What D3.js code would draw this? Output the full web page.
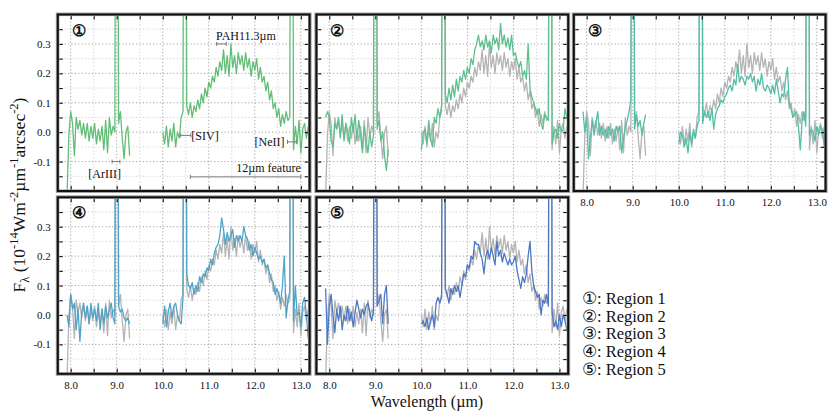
<!DOCTYPE html>
<html><head><meta charset="utf-8">
<script src="https://cdn.jsdelivr.net/npm/d3@7/dist/d3.min.js"></script>
<style>
body{margin:0;background:#fff}
svg text{font-family:"Liberation Serif","Times New Roman",serif;fill:#111}
</style>
</head><body>
<svg id="c" width="830" height="414"></svg>
<script>
// ---------- data (F_lambda, 1e-14 W m^-2 um^-1 arcsec^-2) ----------
const wavelength = [
 7.92,7.96,8.00,8.04,8.08,8.12,8.16,8.20,8.24,8.28,8.32,8.36,8.40,8.44,8.48,8.52,8.56,8.60,8.64,8.68,
 8.72,8.76,8.80,8.84,8.88,8.92,8.96,9.00,9.04,9.08,9.12,9.16,9.20,9.24,9.28,
 9.64,
 10.00,10.04,10.08,10.12,10.16,10.20,10.24,10.28,10.32,10.36,10.40,10.44,10.48,10.52,10.56,10.60,10.64,10.68,10.72,10.76,
 10.80,10.84,10.88,10.92,10.96,11.00,11.04,11.08,11.12,11.16,11.20,11.24,11.28,11.32,11.36,11.40,11.44,11.48,11.52,11.56,
 11.60,11.64,11.68,11.72,11.76,11.80,11.84,11.88,11.92,11.96,12.00,12.04,12.08,12.12,12.16,12.20,12.24,12.28,12.32,12.36,
 12.40,12.44,12.48,12.52,12.56,12.60,12.64,12.68,12.72,12.76,12.80,12.84,12.88,12.92,12.96,13.00,13.04,13.08,13.12,13.16
];
const region1 = [
 -0.22,-0.01,0.07,0.03,-0.08,0.05,0.01,0.04,-0.01,0.03,-0.02,0.03,-0.03,0.02,-0.02,0.03,-0.04,0.01,-0.03,0.02,
 -0.06,0.04,-0.07,0.05,-0.01,0.02,0.00,3,0.03,0.07,-0.02,-0.09,0.00,0.02,-0.08,
 null,
 0.00,-0.04,0.02,-0.05,0.01,-0.03,0.03,-0.05,0.00,-0.02,0.05,0.07,3,0.09,0.06,0.10,0.05,0.09,0.07,0.11,
 0.08,0.13,0.10,0.15,0.12,0.17,0.15,0.19,0.17,0.22,0.19,0.24,0.21,0.28,0.20,0.26,0.19,0.30,0.22,0.26,
 0.20,0.27,0.23,0.26,0.21,0.27,0.22,0.25,0.19,0.24,0.21,0.25,0.18,0.22,0.17,0.19,0.14,0.17,0.11,0.14,
 0.08,0.10,0.05,0.08,0.02,0.06,0.03,0.07,0.04,0.05,3,-0.06,0.02,-0.04,0.04,-0.07,0.01,0.03,-0.02,0.02
];
const region2 = [
 0.05,0.07,0.05,-0.03,-0.05,0.03,0.01,0.05,-0.02,0.06,-0.03,0.03,0.00,-0.04,0.05,0.00,0.06,-0.03,0.04,-0.01,
 -0.07,0.02,-0.03,-0.07,0.00,-0.05,-0.01,3,0.01,0.04,-0.03,0.00,-0.08,-0.13,-0.06,
 null,
 -0.06,0.00,0.01,-0.04,0.04,-0.02,-0.05,0.05,0.03,0.08,0.05,0.09,3,0.13,0.10,0.15,0.11,0.16,0.12,0.18,
 0.14,0.19,0.17,0.21,0.18,0.22,0.20,0.25,0.23,0.28,0.30,0.33,0.29,0.31,0.28,0.33,0.29,0.31,0.27,0.33,
 0.30,0.32,0.28,0.37,0.30,0.33,0.29,0.32,0.28,0.33,0.26,0.27,0.24,0.22,0.24,0.19,0.21,0.18,0.30,0.15,
 0.12,0.10,0.08,0.06,0.08,0.03,0.01,0.06,0.05,0.04,3,-0.04,0.00,0.01,-0.02,0.03,0.00,0.01,0.08,0.05
];
const region3 = [
 0.07,0.00,0.05,-0.09,-0.02,0.04,-0.01,0.03,0.07,-0.01,0.02,-0.01,0.01,-0.02,0.02,-0.01,0.01,-0.03,0.02,0.00,
 0.02,-0.07,-0.02,0.02,0.04,0.07,0.11,3,0.01,0.06,0.02,0.04,-0.01,0.03,0.06,
 null,
 -0.04,0.00,-0.01,-0.05,-0.02,-0.07,0.00,-0.04,0.01,-0.02,0.02,0.04,3,0.03,0.07,0.05,0.07,0.04,0.08,0.01,
 0.06,0.08,0.09,0.11,0.10,0.12,0.13,0.15,0.16,0.14,0.18,0.16,0.23,0.17,0.19,0.18,0.16,0.19,0.18,0.20,
 0.17,0.19,0.14,0.18,0.16,0.20,0.15,0.14,0.16,0.15,0.13,0.16,0.13,0.18,0.14,0.10,0.13,0.12,0.18,0.22,
 0.10,0.08,0.05,0.06,0.07,0.02,-0.06,0.04,0.07,0.02,3,-0.01,0.01,0.00,-0.03,0.02,-0.01,0.02,0.01,-0.05
];
const region4 = [
 0.00,-0.04,0.07,0.02,0.04,-0.05,0.02,-0.09,0.01,0.04,-0.01,0.03,-0.03,0.04,-0.01,0.02,-0.02,0.04,-0.05,0.02,
 -0.03,0.03,-0.01,0.02,0.04,-0.01,-0.03,3,0.03,0.01,0.02,-0.01,-0.02,-0.01,-0.03,
 null,
 -0.03,0.03,-0.04,0.01,0.04,-0.01,0.03,0.04,0.00,-0.02,-0.03,0.06,3,0.14,0.10,0.09,0.11,0.07,0.10,0.08,
 0.13,0.11,0.14,0.13,0.16,0.15,0.19,0.17,0.21,0.23,0.24,0.27,0.33,0.29,0.24,0.28,0.25,0.27,0.29,0.23,
 0.27,0.25,0.27,0.25,0.30,0.27,0.26,0.22,0.24,0.20,0.23,0.21,0.19,0.20,0.18,0.19,0.16,0.17,0.14,0.12,
 0.11,0.07,0.09,0.07,0.04,0.10,0.20,-0.01,0.05,0.08,3,-0.02,0.10,0.00,0.01,-0.04,0.04,0.06,0.00,-0.08
];
const region5 = [
 0.09,-0.10,0.03,0.07,0.00,-0.06,0.02,-0.02,0.03,-0.05,0.00,-0.02,0.03,-0.02,0.01,-0.04,0.01,0.05,0.02,-0.01,
 0.02,0.00,0.03,0.04,0.01,-0.02,0.01,3,0.03,0.05,0.07,-0.03,0.07,0.10,-0.03,
 null,
 -0.03,-0.02,-0.04,-0.01,-0.05,-0.02,0.00,-0.04,0.04,0.06,0.04,0.06,3,0.09,0.07,0.04,0.09,0.07,0.10,0.08,
 0.10,0.06,0.10,0.14,0.13,0.17,0.16,0.20,0.19,0.25,0.24,0.24,0.21,0.19,0.14,0.20,0.22,0.19,0.23,0.20,
 0.17,0.25,0.20,0.22,0.18,0.21,0.19,0.17,0.19,0.17,0.18,0.20,0.15,0.12,0.09,0.13,0.11,0.14,0.20,0.25,
 0.15,0.10,0.08,0.06,0.07,0.00,0.05,0.04,0.07,0.03,3,0.01,-0.04,-0.02,-0.05,0.00,-0.04,0.00,-0.02,-0.05
];
const regionNames = ["Region 1","Region 2","Region 3","Region 4","Region 5"];
const regionMarks = ["\u2460","\u2461","\u2462","\u2463","\u2464"];
const regionColors = ["#62be76","#5ec08c","#52bfa6","#4ea4c8","#4d78c6"];
const referenceColor = "#b4b4b4";
const xTickValues = [8.0,8.5,9.0,9.5,10.0,10.5,11.0,11.5,12.0,12.5,13.0];
const xTickLabels = {8:"8.0",9:"9.0",10:"10.0",11:"11.0",12:"12.0",13:"13.0"};
const yTickValues = [-0.15,-0.1,-0.05,0.0,0.05,0.1,0.15,0.2,0.25,0.3,0.35];
const yTickLabels = {"-0.1":"-0.1","0":"0.0","0.1":"0.1","0.2":"0.2","0.3":"0.3"};
// annotations of panel 1
const lineMarks = [
 {label:"[ArIII]", x1:8.90, x2:9.07, y:-0.10},
 {label:"[SIV]",   x1:10.39, x2:10.61, y:-0.011},
 {label:"[NeII]",  x1:12.71, x2:12.90, y:-0.033},
 {label:"PAH11.3\u00b5m", x1:11.17, x2:11.38, y:0.30},
 {label:"12\u00b5m feature", x1:10.60, x2:13.00, y:-0.152}
];

const regions = [region1,region2,region3,region4,region5];
// ---------- layout ----------
const svg = d3.select("#c");
const colLeft = [57.8,316.4,573.8], rowTop = [14.5,197.3];
const pw = 251.8, ph = 176.5;
const panels = [
 {c:0,r:0,xl:false,yl:true},{c:1,r:0,xl:false,yl:false},{c:2,r:0,xl:true,yl:false},
 {c:0,r:1,xl:true,yl:true},{c:1,r:1,xl:true,yl:false}
];
const x = d3.scaleLinear().domain([7.72,13.19]).range([0,pw]);
const y = d3.scaleLinear().domain([-0.2,0.4]).range([ph,0]);
const line = d3.line().defined(d=>d.v!==null).x(d=>x(d.w)).y(d=>y(d.v));
const toPts = arr => wavelength.map((w,i)=>({w:w,v:arr[i]}));

panels.forEach((p,i)=>{
  const g = svg.append("g").attr("transform",`translate(${colLeft[p.c]},${rowTop[p.r]})`);
  const cid = "clip"+i;
  g.append("clipPath").attr("id",cid).append("rect").attr("width",pw).attr("height",ph);
  const grid = g.append("g");
  xTickValues.forEach(v=>{
    const major = Math.abs(v-Math.round(v))<1e-6;
    grid.append("line").attr("x1",x(v)).attr("x2",x(v)).attr("y1",0).attr("y2",ph)
      .attr("stroke",major?"#8a8a8a":"#c4c4c4").attr("stroke-width",0.8).attr("stroke-dasharray","1.2,2.2");
  });
  yTickValues.forEach(v=>{
    const major = Math.abs(v*10-Math.round(v*10))<1e-6;
    grid.append("line").attr("x1",0).attr("x2",pw).attr("y1",y(v)).attr("y2",y(v))
      .attr("stroke",major?"#8a8a8a":"#c4c4c4").attr("stroke-width",0.8).attr("stroke-dasharray","1.2,2.2");
  });
  const dg = g.append("g").attr("clip-path",`url(#${cid})`);
  if(i>0){
    dg.append("path").attr("d",line(toPts(region1))).attr("fill","none")
      .attr("stroke",referenceColor).attr("stroke-width",1.3).attr("stroke-linejoin","round");
  }
  dg.append("path").attr("d",line(toPts(regions[i]))).attr("fill","none")
    .attr("stroke",regionColors[i]).attr("stroke-width",1.3).attr("stroke-linejoin","round");

  const ax = g.append("g");
  ax.append("g").attr("transform",`translate(0,${ph})`)
    .call(d3.axisBottom(x).tickValues(xTickValues).tickSize(-5).tickPadding(7)
      .tickFormat(d=> p.xl ? (xTickLabels[Math.round(d*10)/10]||"") : ""));
  ax.append("g").call(d3.axisTop(x).tickValues(xTickValues).tickSize(-5).tickFormat(""));
  ax.append("g").call(d3.axisLeft(y).tickValues(yTickValues).tickSize(-5).tickPadding(7)
      .tickFormat(d=> p.yl ? (yTickLabels[String(Math.round(d*100)/100)]||"") : ""));
  ax.append("g").attr("transform",`translate(${pw},0)`)
    .call(d3.axisRight(y).tickValues(yTickValues).tickSize(-5).tickFormat(""));
  ax.selectAll(".domain").remove();
  ax.selectAll(".tick line").attr("stroke","#111").attr("stroke-width",1.1);
  ax.selectAll(".tick text").attr("font-size",11).attr("fill","#222")
    .attr("font-family","'Liberation Serif',serif");

  g.append("rect").attr("x",-0.2).attr("y",-0.2).attr("width",pw+0.4).attr("height",ph+0.4)
    .attr("fill","none").attr("stroke","#a0a0a0").attr("stroke-width",3.6);
  g.append("rect").attr("width",pw).attr("height",ph)
    .attr("fill","none").attr("stroke","#111").attr("stroke-width",2);

  g.append("text").attr("x",14).attr("y",21).attr("font-size",16).attr("font-weight","bold")
    .text(regionMarks[i]);

  if(i===0){
    const ag = g.append("g");
    lineMarks.forEach(m=>{
      const col = "#7a7a7a";
      ag.append("line").attr("x1",x(m.x1)).attr("x2",x(m.x2)).attr("y1",y(m.y)).attr("y2",y(m.y))
        .attr("stroke",col).attr("stroke-width",1);
      [m.x1,m.x2].forEach(xx=>ag.append("line").attr("x1",x(xx)).attr("x2",x(xx))
        .attr("y1",y(m.y)-2).attr("y2",y(m.y)+2).attr("stroke",col).attr("stroke-width",1));
      let tx, ty, anchor;
      if(m.label==="[ArIII]"){tx=x(m.x2)+1; ty=y(m.y)+16; anchor="end";}
      else if(m.label==="[SIV]"){tx=x(m.x2)+0.5; ty=y(m.y)+4.5; anchor="start";}
      else if(m.label==="[NeII]"){tx=x(m.x1)-3; ty=y(m.y)+4.5; anchor="end";}
      else if(m.label.startsWith("PAH")){tx=x(m.x1)-0.5; ty=y(m.y)-4; anchor="start";}
      else {tx=x(m.x2); ty=y(m.y)-4.5; anchor="end";}
      ag.append("text").attr("x",tx).attr("y",ty).attr("text-anchor",anchor)
        .attr("font-size",12).attr("fill","#333").text(m.label);
    });
  }
});

svg.append("text").attr("x",427).attr("y",407).attr("text-anchor","middle")
  .attr("font-size",16).text("Wavelength (\u00b5m)");
const yl = svg.append("text").attr("transform","translate(25,195) rotate(-90)")
  .attr("text-anchor","middle").attr("font-size",17.5);
[["F",0,17.5],["\u03bb",4,12.5],[" (10",-4,17.5],["-14",-7,12.5],["Wm",7,17.5],["-2",-7,12.5],
 ["\u00b5m",7,17.5],["-1",-7,12.5],["arcsec",7,17.5],["-2",-7,12.5],[")",7,17.5]].forEach(t=>{
  yl.append("tspan").attr("dy",t[1]).attr("font-size",t[2]).text(t[0]);
});

const lg = svg.append("g");
regionNames.forEach((n,i)=>{
  lg.append("text").attr("x",582).attr("y",304+i*17.7).attr("font-size",16.5)
    .text(regionMarks[i]+": "+n);
});
</script>
</body></html>
